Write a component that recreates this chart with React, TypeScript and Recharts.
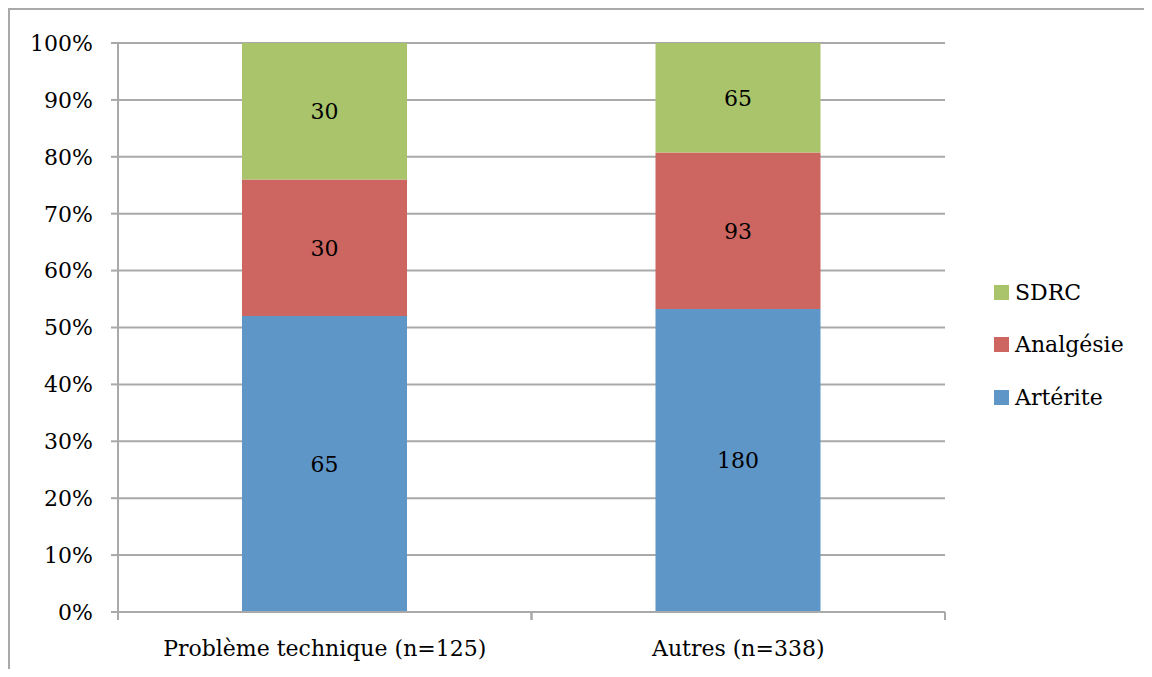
import React from "react";
import {
  BarChart,
  Bar,
  XAxis,
  YAxis,
  CartesianGrid,
  Legend,
  LabelList,
} from "recharts";

const categories = ["Problème technique (n=125)", "Autres (n=338)"];
const arterite = [65, 180];
const analgesie = [30, 93];
const sdrc = [30, 65];
const yTicks = [0, 0.1, 0.2, 0.3, 0.4, 0.5, 0.6, 0.7, 0.8, 0.9, 1];
const legendOrder = ["SDRC", "Analgésie", "Artérite"];

const COLORS = {
  arterite: "#5F96C8",
  analgesie: "#CD6660",
  sdrc: "#AAC46B",
};

const FONT = "'DejaVu Serif', serif";
const GRID = "#a9a9a9";

const data = categories.map((name, i) => ({
  name,
  arterite: arterite[i],
  analgesie: analgesie[i],
  sdrc: sdrc[i],
}));

const LegendContent = (props: any) => {
  const payload = props.payload || [];
  const items = legendOrder
    .map((n) => payload.find((p: any) => p.value === n))
    .filter(Boolean);
  return (
    <div style={{ fontFamily: FONT, fontSize: 22, color: "#000" }}>
      {items.map((it: any) => (
        <div
          key={it.value}
          style={{ display: "flex", alignItems: "center", height: 52.5 }}
        >
          <span
            style={{
              display: "inline-block",
              width: 15,
              height: 15,
              background: it.color,
              marginRight: 6,
            }}
          />
          <span>{it.value}</span>
        </div>
      ))}
    </div>
  );
};

const CatTick = (props: any) => {
  const { x, y, payload, width, visibleTicksCount } = props;
  const half =
    payload && typeof payload.offset === "number" && payload.offset > 0
      ? payload.offset
      : width / (visibleTicksCount || 2) / 2;
  return (
    <g>
      <line x1={x - half} x2={x - half} y1={y} y2={y + 8} stroke={GRID} strokeWidth={2} />
      <line x1={x + half} x2={x + half} y1={y} y2={y + 8} stroke={GRID} strokeWidth={2} />
      <text
        x={x}
        y={y + 36}
        textAnchor="middle"
        dominantBaseline="central"
        fontFamily={FONT}
        fontSize={22}
        fill="#000"
      >
        {payload.value}
      </text>
    </g>
  );
};

const labelStyle = { fontFamily: FONT, fontSize: 22, fill: "#000" };

export default function App() {
  return (
    <div
      style={{
        width: 1144,
        height: 661,
        marginRight: -8,
        borderTop: `2px solid ${GRID}`,
        borderLeft: `2px solid ${GRID}`,
        boxSizing: "border-box",
        position: "relative",
        background: "#fff",
      }}
    >
      <BarChart
        width={1142}
        height={659}
        data={data}
        stackOffset="expand"
        margin={{ top: 33, right: 47, bottom: 0, left: 0 }}
      >
        <CartesianGrid vertical={false} stroke={GRID} strokeWidth={2} />
        <XAxis
          dataKey="name"
          height={57}
          axisLine={{ stroke: GRID, strokeWidth: 2 }}
          tickLine={false}
          tickSize={0}
          tickMargin={0}
          tick={<CatTick />}
          interval={0}
        />
        <YAxis
          width={108}
          domain={[0, 1]}
          ticks={yTicks}
          tickFormatter={(v: number) => `${Math.round(v * 100)}%`}
          tickSize={7}
          tickMargin={18}
          tick={{ fontFamily: FONT, fontSize: 22, fill: "#000" }}
          tickLine={{ stroke: GRID, strokeWidth: 2 }}
          axisLine={{ stroke: GRID, strokeWidth: 2 }}
        />
        <Legend
          layout="horizontal"
          verticalAlign="middle"
          align="right"
          content={<LegendContent />}
          wrapperStyle={{ left: 984, top: 256, width: 160 }}
        />
        <Bar
          dataKey="arterite"
          name="Artérite"
          stackId="a"
          fill={COLORS.arterite}
          barSize={165}
          isAnimationActive={false}
        >
          <LabelList dataKey="arterite" position="center" style={labelStyle} />
        </Bar>
        <Bar
          dataKey="analgesie"
          name="Analgésie"
          stackId="a"
          fill={COLORS.analgesie}
          barSize={165}
          isAnimationActive={false}
        >
          <LabelList dataKey="analgesie" position="center" style={labelStyle} />
        </Bar>
        <Bar
          dataKey="sdrc"
          name="SDRC"
          stackId="a"
          fill={COLORS.sdrc}
          barSize={165}
          isAnimationActive={false}
        >
          <LabelList dataKey="sdrc" position="center" style={labelStyle} />
        </Bar>
      </BarChart>
    </div>
  );
}
